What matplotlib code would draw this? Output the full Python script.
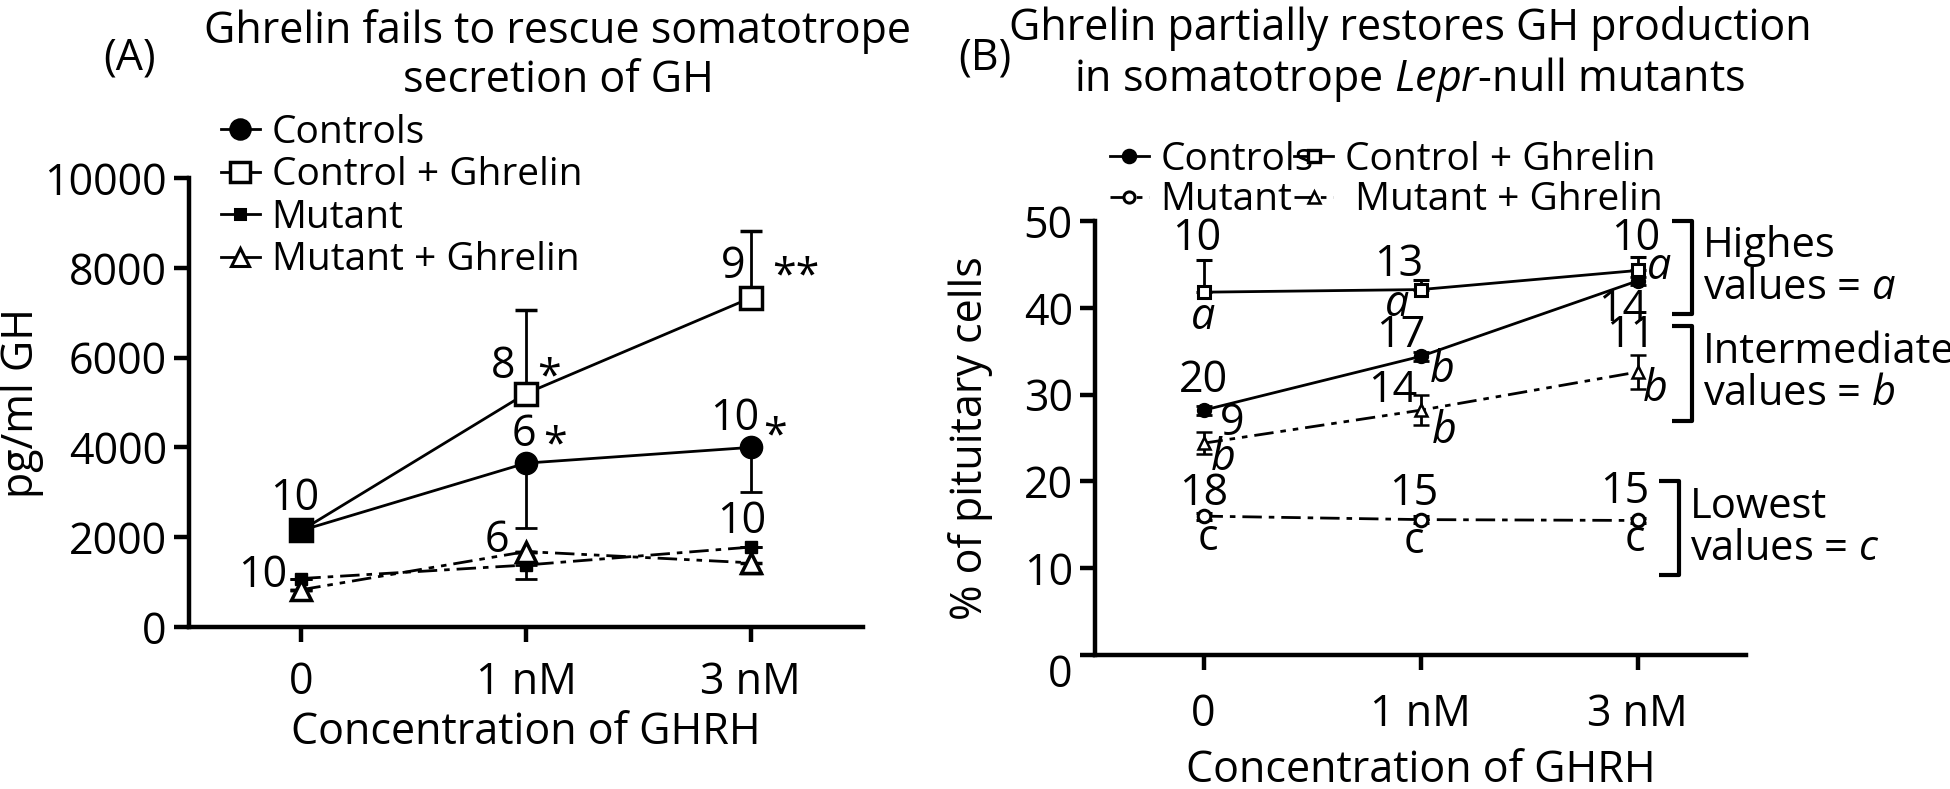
import matplotlib
matplotlib.use("Agg")
import matplotlib.pyplot as plt
import matplotlib.transforms as mtransforms
from matplotlib.lines import Line2D

plt.rcParams["font.family"] = ["Open Sans", "DejaVu Sans"]
plt.rcParams["mathtext.fontset"] = "custom"
plt.rcParams["mathtext.rm"] = "Open Sans"
plt.rcParams["mathtext.it"] = "Open Sans:italic"

W, H = 1950, 789

GHRH = ["0", "1 nM", "3 nM"]
X = [0, 1, 2]

# Panel A: GH secretion, pg/ml (errors as [lower, upper])
A_CONTROLS = [2150, 3650, 4000]
A_CONTROLS_ERR = [[0, 1450, 990], [0, 0, 0]]
A_CTRL_GHRELIN = [2150, 5200, 7330]
A_CTRL_GHRELIN_ERR = [[0, 0, 0], [0, 1850, 1480]]
A_MUTANT = [1080, 1380, 1780]
A_MUTANT_ERR = [[0, 320, 0], [0, 0, 0]]
A_MUT_GHRELIN = [830, 1680, 1430]
A_MUT_GHRELIN_ERR = [[0, 0, 230], [0, 0, 0]]

# Panel B: % of pituitary cells
B_CONTROLS = [28.2, 34.4, 43.1]
B_CONTROLS_ERR = [0.5, 0.5, 0.5]
B_CTRL_GHRELIN = [41.8, 42.1, 44.3]
B_CTRL_GHRELIN_ERR = [[0, 0, 0], [3.7, 1.1, 1.6]]
B_MUTANT = [16.0, 15.6, 15.5]
B_MUTANT_ERR = [0.4, 0.4, 0.3]
B_MUT_GHRELIN = [24.4, 28.2, 32.6]
B_MUT_GHRELIN_ERR = [1.3, 1.7, 2.0]

# n values and significance marks: (text, x, y, italic)
A_NOTES = [
    ("10", -0.03, 2850, False), ("10", -0.17, 1140, False),
    ("8", 0.90, 5800, False), ("*", 1.10, 5550, False),
    ("6", 0.99, 4290, False), ("*", 1.13, 4030, False),
    ("6", 0.87, 1930, False),
    ("9", 1.92, 8020, False), ("**", 2.20, 7800, False),
    ("10", 1.93, 4630, False), ("*", 2.11, 4230, False),
    ("10", 1.96, 2350, False),
]
B_NOTES = [
    ("10", -0.03, 47.9, False), ("13", 0.90, 45.0, False), ("10", 1.99, 47.9, False),
    ("a", 0.0, 38.9, True), ("a", 0.89, 40.4, True), ("a", 2.10, 44.6, True),
    ("14", 1.93, 39.8, False), ("17", 0.91, 36.8, False), ("b", 1.10, 32.7, True),
    ("11", 1.97, 36.8, False), ("b", 2.08, 30.6, True),
    ("20", 0.0, 31.6, False), ("9", 0.13, 26.6, False), ("b", 0.09, 22.6, True),
    ("14", 0.87, 30.5, False), ("b", 1.11, 25.7, True),
    ("18", 0.0, 18.6, False), ("15", 0.97, 18.6, False), ("15", 1.94, 18.8, False),
    ("c", 0.02, 13.4, False), ("c", 0.97, 13.1, False), ("c", 1.99, 13.3, False),
]
# group brackets: (top, bottom, x, label lines)
B_GROUPS = [
    (50.0, 39.3, 2.25, ["Highes", r"values = $\mathit{a}$"]),
    (37.9, 27.0, 2.25, ["Intermediate", r"values = $\mathit{b}$"]),
    (20.1, 9.2, 2.19, ["Lowest", "values = $\\mathit{c}$"]),
]

DASH_DOT = (0, (7, 2.5, 2, 2.5))
DASH_DOT_DOT = (0, (7, 2.5, 2, 2.5, 2, 2.5))
FS = 31
LEG_FS = 28


def style_axes(ax, ylim, yticks, xpad):
    ax.set_xlim(-0.5, 2.5)
    ax.set_ylim(*ylim)
    ax.set_yticks(yticks)
    ax.set_xticks(X)
    ax.set_xticklabels(GHRH)
    for side in ("top", "right"):
        ax.spines[side].set_visible(False)
    for side in ("left", "bottom"):
        ax.spines[side].set_linewidth(3.2)
    ax.tick_params(axis="both", width=3.2, length=11, labelsize=FS)
    ax.tick_params(axis="x", pad=xpad)
    ax.tick_params(axis="y", pad=5)
    ax.patch.set_alpha(0)


def handle(marker, ms, ls, filled, mew=2.2):
    return Line2D([], [], color="black", lw=2, ls=ls, marker=marker, ms=ms,
                  mfc="black" if filled else "white", mec="black", mew=mew)


fig = plt.figure(figsize=(W / 100, H / 100), dpi=100)

# ---- Panel A
axA = fig.add_axes([189 / W, 1 - 627 / H, 674 / W, 449 / H])
style_axes(axA, (0, 10000), [0, 2000, 4000, 6000, 8000, 10000], 13)
kw = dict(color="black", capsize=8, elinewidth=2, capthick=2, lw=2)
axA.errorbar(X, A_CONTROLS, yerr=A_CONTROLS_ERR, marker="o", ms=16, ls="-",
             mfc="black", mec="black", **kw)
axA.errorbar(X, A_CTRL_GHRELIN, yerr=A_CTRL_GHRELIN_ERR, marker="s", ms=16, ls="-",
             mfc="white", mec="black", mew=2.5, **kw)
axA.errorbar(X, A_MUTANT, yerr=A_MUTANT_ERR, marker="s", ms=8, ls=DASH_DOT,
             mfc="black", mec="black", **kw)
axA.errorbar(X, A_MUT_GHRELIN, yerr=A_MUT_GHRELIN_ERR, marker="^", ms=15, ls=DASH_DOT_DOT,
             mfc="white", mec="black", mew=2.5, **kw)
# both control groups share the 0 nM point, drawn as a filled square
axA.plot(X[:1], A_CONTROLS[:1], marker="s", ms=16, color="black", ls="none", zorder=10)
for txt, x, y, it in A_NOTES:
    axA.text(x, y, txt, fontsize=FS, ha="center", va="center",
             style="italic" if it else "normal")
axA.set_xlabel("Concentration of GHRH", fontsize=FS, labelpad=4)
axA.set_ylabel("pg/ml GH", fontsize=FS, labelpad=0)
handles_a = [
    handle("o", 14, "-", True),
    handle("s", 14, "-", False, 2.5),
    handle("s", 7, "-", True),
    handle("^", 13, "-", False, 2.2),
]
fig.legend(handles_a, ["Controls", "Control + Ghrelin", "Mutant", "Mutant + Ghrelin"],
           loc="upper left", bbox_to_anchor=(221 / W, 1 - 114 / H), frameon=False,
           fontsize=LEG_FS, handlelength=1.0, handletextpad=0.3, labelspacing=0.115,
           borderpad=0, borderaxespad=0)

fig.text(130 / W, 1 - 58 / H, "(A)", fontsize=FS, ha="center", va="center")
fig.text(558 / W, 1 - 56 / H, "Ghrelin fails to rescue somatotrope\nsecretion of GH",
         fontsize=FS, ha="center", va="center", linespacing=1.14)

# ---- Panel B
axB = fig.add_axes([1095 / W, 1 - 655 / H, 651 / W, 434 / H])
style_axes(axB, (0, 50), [0, 10, 20, 30, 40, 50], 16)
kwb = dict(color="black", capsize=6, elinewidth=2, capthick=2, lw=2)
axB.errorbar(X, B_CONTROLS, yerr=B_CONTROLS_ERR, marker="o", ms=10, ls="-",
             mfc="black", mec="black", **kwb)
axB.errorbar(X, B_CTRL_GHRELIN, yerr=B_CTRL_GHRELIN_ERR, marker="s", ms=9, ls="-",
             mfc="white", mec="black", mew=2.2, **kwb)
axB.errorbar(X, B_MUTANT, yerr=B_MUTANT_ERR, marker="o", ms=9, ls=DASH_DOT,
             mfc="white", mec="black", mew=2.2, **kwb)
axB.errorbar(X, B_MUT_GHRELIN, yerr=B_MUT_GHRELIN_ERR, marker="^", ms=9, ls=DASH_DOT_DOT,
             mfc="white", mec="black", mew=1.8, **kwb)
for txt, x, y, it in B_NOTES:
    axB.text(x, y, txt, fontsize=FS, ha="center", va="center",
             style="italic" if it else "normal")
for top, bottom, xb, lines in B_GROUPS:
    axB.plot([xb - 0.09, xb, xb, xb - 0.09], [top, top, bottom, bottom],
             color="black", lw=3, clip_on=False, solid_capstyle="butt")
    mid = (top + bottom) / 2
    axB.text(xb + 0.05, mid, "\n".join(lines), fontsize=30, ha="left", va="center",
             linespacing=1.0)
axB.set_xlabel("Concentration of GHRH", fontsize=FS, labelpad=8)
axB.set_ylabel("% of pituitary cells", fontsize=FS, labelpad=22)
# the zero tick label sits a little lower in the original
lbl0 = axB.get_yticklabels()[0]
lbl0.set_transform(lbl0.get_transform() + mtransforms.ScaledTranslation(0, -0.15, fig.dpi_scale_trans))
handles_b = [
    handle("o", 9, "-", True),
    handle("o", 8, DASH_DOT, False),
    handle("s", 8, "-", False, 2.4),
    handle("^", 8, DASH_DOT_DOT, False, 1.8),
]
fig.legend(handles_b, ["Controls", "Mutant", "Control + Ghrelin", " Mutant + Ghrelin"],
           loc="upper left", bbox_to_anchor=(1110 / W, 1 - 141 / H), frameon=False, ncol=2,
           fontsize=LEG_FS, handlelength=1.0, handletextpad=0.3, labelspacing=0.055,
           columnspacing=-0.5, borderpad=0, borderaxespad=0)

fig.text(985 / W, 1 - 58 / H, "(B)", fontsize=FS, ha="center", va="center")
fig.text(1410 / W, 1 - 55 / H,
         "Ghrelin partially restores GH production\nin somatotrope $\\mathit{Lepr}$-null mutants",
         fontsize=FS, ha="center", va="center", linespacing=1.1)

fig.savefig("out.png", dpi=100)
